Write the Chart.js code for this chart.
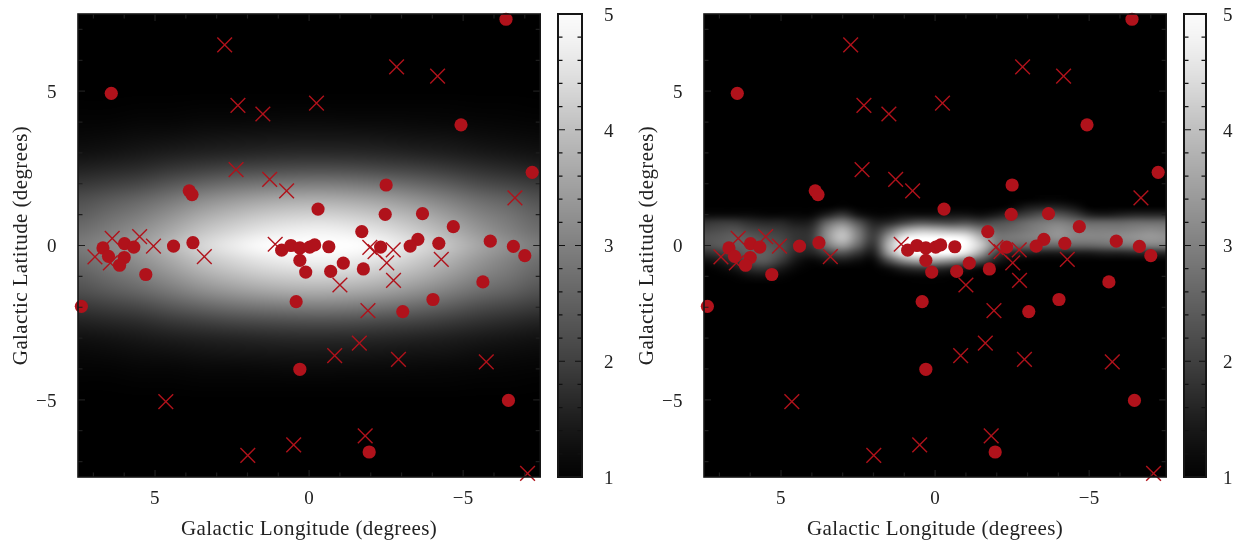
<!DOCTYPE html>
<html><head><meta charset="utf-8">
<script src="https://cdn.jsdelivr.net/npm/chart.js@4"></script>
<style>
html,body{margin:0;padding:0;background:#fff;width:1233px;height:542px;overflow:hidden}
canvas{position:absolute;top:0}
</style></head><body>
<canvas id="p1" style="left:0" width="552" height="542"></canvas>
<canvas id="c1" style="left:552px" width="75" height="542"></canvas>
<canvas id="p2" style="left:626px" width="552" height="542"></canvas>
<canvas id="c2" style="left:1178px" width="55" height="542"></canvas>
<script>
const circleL=[6.42,3.89,3.80,6.69,5.99,5.69,6.51,6.00,6.15,4.40,3.77,5.30,0.89,0.59,0.30,-0.02,-0.18,-0.29,0.30,0.11,0.42,0.30,7.39,-6.39,-4.93,-7.24,-2.50,-2.47,-3.68,-4.68,-1.71,-3.53,-3.28,-4.21,-2.32,-5.88,-6.63,-7.00,-0.64,-1.11,-1.76,-0.70,-5.64,-4.02,-3.04,-6.47,-1.95];
const circleB=[4.93,1.77,1.65,-0.08,0.06,-0.05,-0.35,-0.39,-0.64,-0.02,0.09,-0.94,-0.15,0.00,-0.08,-0.05,0.02,1.18,-0.48,-0.86,-1.82,-4.01,-1.97,7.33,3.91,2.37,1.96,1.01,1.03,0.61,0.45,0.20,-0.02,0.07,-0.05,0.14,-0.03,-0.33,-0.04,-0.57,-0.76,-0.84,-1.18,-1.75,-2.14,-5.02,-6.69];
const crossL=[2.74,2.31,1.50,-0.24,2.37,1.28,0.73,1.10,6.95,6.39,6.45,5.50,5.05,3.40,-2.84,-4.17,-6.68,-1.97,-2.14,-2.73,-2.52,-4.29,-1.00,-2.74,-1.91,-1.63,-0.83,-2.90,-5.75,-1.82,-7.09,4.65,1.99,0.50];
const crossB=[6.50,4.54,4.26,4.61,2.46,2.14,1.77,0.04,-0.37,0.23,-0.56,0.29,-0.02,-0.36,5.79,5.49,1.54,-0.06,-0.20,-0.14,-0.56,-0.45,-1.28,-1.13,-2.11,-3.16,-3.57,-3.69,-3.77,-6.17,-7.38,-5.06,-6.80,-6.46];
const labelTicks=[5,0,-5];
const minorTicks=[7,6,4,3,2,1,-1,-2,-3,-4,-6,-7];
const barLabels=[1,2,3,4,5];
const barMinor=[1.2,1.4,1.6,1.8,2.2,2.4,2.6,2.8,3.2,3.4,3.6,3.8,4.2,4.4,4.6,4.8];
const barLevels=[5,4,3,2,1];

const leftCols=[7.5,6.5,5.5,4.5,3.5,2.5,1.5,0.5,-0.5,-1.5,-2.5,-3.5,-4.5,-5.5,-6.5,-7.5];
const leftRows=[5,4.5,4,3.5,3,2.5,2,1.5,1,0.5,0,-0.5,-1,-1.5,-2,-2.5,-3,-3.5,-4,-4.5,-5];
const leftGrid=[
[1,1,1,1,1,1,1,1,1,1,1,1,1,1,1,1],
[1.02,1.02,1.03,1.03,1.04,1.04,1.05,1.05,1.05,1.05,1.05,1.04,1.04,1.03,1.03,1.02],
[1.06,1.07,1.09,1.10,1.12,1.13,1.14,1.15,1.15,1.14,1.14,1.12,1.11,1.09,1.08,1.06],
[1.13,1.16,1.20,1.24,1.28,1.31,1.33,1.34,1.35,1.34,1.32,1.29,1.26,1.21,1.18,1.14],
[1.25,1.30,1.37,1.45,1.52,1.57,1.61,1.64,1.65,1.63,1.59,1.54,1.47,1.40,1.33,1.27],
[1.50,1.58,1.68,1.83,1.96,2.06,2.13,2.18,2.19,2.16,2.09,2.00,1.88,1.73,1.62,1.52],
[1.85,1.98,2.11,2.35,2.56,2.72,2.84,2.92,2.94,2.88,2.77,2.62,2.42,2.19,2.05,1.90],
[2.20,2.40,2.60,2.86,3.16,3.38,3.55,3.66,3.69,3.61,3.46,3.24,2.97,2.70,2.50,2.25],
[2.45,2.70,2.95,3.28,3.64,3.90,4.12,4.25,4.28,4.18,4.00,3.74,3.41,3.05,2.80,2.50],
[2.70,2.95,3.25,3.62,4.04,4.34,4.59,4.74,4.78,4.67,4.46,4.15,3.77,3.36,3.00,2.70],
[2.90,3.15,3.45,3.90,4.36,4.70,4.97,5,5,5,4.82,4.49,4.07,3.60,3.25,2.90],
[2.70,2.95,3.25,3.62,4.04,4.34,4.59,4.74,4.78,4.67,4.46,4.15,3.77,3.36,3.00,2.70],
[2.45,2.70,2.95,3.28,3.64,3.90,4.12,4.25,4.28,4.18,4.00,3.74,3.41,3.05,2.80,2.50],
[2.20,2.40,2.60,2.86,3.16,3.38,3.55,3.66,3.69,3.61,3.46,3.24,2.97,2.70,2.50,2.25],
[1.85,1.98,2.11,2.35,2.56,2.72,2.84,2.92,2.94,2.88,2.77,2.62,2.42,2.19,2.05,1.90],
[1.50,1.58,1.68,1.83,1.96,2.06,2.13,2.18,2.19,2.16,2.09,2.00,1.88,1.73,1.62,1.52],
[1.25,1.30,1.37,1.45,1.52,1.57,1.61,1.64,1.65,1.63,1.59,1.54,1.47,1.40,1.33,1.27],
[1.13,1.16,1.20,1.24,1.28,1.31,1.33,1.34,1.35,1.34,1.32,1.29,1.26,1.21,1.18,1.14],
[1.06,1.07,1.09,1.10,1.12,1.13,1.14,1.15,1.15,1.14,1.14,1.12,1.11,1.09,1.08,1.06],
[1.02,1.02,1.03,1.03,1.04,1.04,1.05,1.05,1.05,1.05,1.05,1.04,1.04,1.03,1.03,1.02],
[1,1,1,1,1,1,1,1,1,1,1,1,1,1,1,1]];

const rightCols=[7.5,7,6.5,6,5.5,5,4.5,4,3.5,3,2.5,2,1.5,1,0.5,0,-0.5,-1,-1.5,-2,-2.5,-3,-3.5,-4,-4.5,-5,-5.5,-6,-6.5,-7,-7.5];
const rightRows=[1.5,1.25,1,0.75,0.5,0.25,0,-0.25,-0.5,-0.75,-1,-1.25];
const rightGrid=[
[1,1,1,1,1,1,1,1,1,1,1,1,1,1,1,1,1,1,1,1,1,1,1.05,1.05,1,1,1,1,1,1,1],
[1,1,1,1,1,1,1,1,1,1.1,1,1,1,1,1,1,1,1,1,1,1.1,1.4,1.5,1.5,1.3,1,1,1,1,1,1],
[1.15,1.15,1.15,1.15,1.1,1.1,1.1,1.1,1.5,1.9,1.3,1.1,1.1,1.2,1.2,1.2,1.3,1.3,1.2,1.4,1.7,2.0,2.3,2.3,2.0,1.5,1.4,1.5,1.6,1.6,1.6],
[1.8,1.9,1.9,1.7,1.6,1.6,1.4,1.5,2.6,3.1,2.3,1.5,1.6,2.0,2.3,2.2,2.1,2.2,2.0,2.2,2.4,2.7,2.9,3.0,2.8,2.6,2.6,2.6,2.7,2.7,2.7],
[2.1,2.2,2.3,2.1,2.0,1.9,1.7,1.8,3.2,3.9,2.9,1.8,2.6,3.6,4.0,3.9,3.7,3.6,3.0,2.6,2.7,2.9,3.1,3.3,3.1,3.0,3.0,3.0,3.1,3.2,3.1],
[2.3,2.4,2.5,2.4,2.2,2.1,1.8,1.9,3.3,4.1,3.0,1.9,3.5,4.8,5,5,5,4.8,3.8,2.9,2.9,3.0,3.1,3.3,3.1,3.1,3.1,3.2,3.3,3.4,3.3],
[2.2,2.4,2.5,2.5,2.4,2.2,1.8,1.8,2.9,3.5,2.6,1.7,3.9,5,5,5,5,5,4.2,2.8,2.6,2.6,2.6,2.6,2.6,2.6,2.7,2.8,2.9,3.0,3.0],
[1.7,1.9,2.2,2.5,2.5,2.2,1.6,1.5,2.0,2.3,1.8,1.4,3.5,4.8,5,5,5,4.6,3.5,2.0,1.5,1.5,1.4,1.4,1.4,1.4,1.5,1.5,1.6,1.6,1.6],
[1.2,1.4,1.8,2.3,2.4,1.9,1.3,1.1,1.3,1.4,1.2,1.1,2.2,3.2,3.6,3.5,3.2,2.8,2.2,1.4,1.1,1,1,1,1,1,1,1,1,1,1],
[1,1.1,1.3,1.7,1.8,1.4,1.1,1,1,1,1,1,1.2,1.6,1.8,1.7,1.5,1.3,1.1,1,1,1,1,1,1,1,1,1,1,1,1],
[1,1,1.05,1.2,1.25,1.1,1,1,1,1,1,1,1,1.05,1.1,1.1,1.05,1,1,1,1,1,1,1,1,1,1,1,1,1,1],
[1,1,1,1,1,1,1,1,1,1,1,1,1,1,1,1,1,1,1,1,1,1,1,1,1,1,1,1,1,1,1]];

const FONT='"Liberation Serif",serif', TXT='#222', MARK='#b0121b', EDGE='#161616', TICK='#1e1e1e';
const grey=v=>Math.round((Math.min(5,Math.max(1,v))-1)/4*255);

const heatPlugin={id:'heat',beforeDraw(ch){ch.ctx.letterSpacing='0.4px'},beforeDatasetsDraw(ch,a,o){
  if(!o.grid)return;
  const {ctx,chartArea:A,scales:{x,y}}=ch,cols=o.cols,rows=o.rows,g=o.grid;
  const off=document.createElement('canvas');off.width=cols.length;off.height=rows.length;
  const oc=off.getContext('2d'),im=oc.createImageData(cols.length,rows.length);
  rows.forEach((_,r)=>cols.forEach((_,c)=>{const k=(r*cols.length+c)*4,w=grey(g[r][c]);
    im.data[k]=im.data[k+1]=im.data[k+2]=w;im.data[k+3]=255;}));
  oc.putImageData(im,0,0);
  const dc=(cols[1]-cols[0])/2,dr=(rows[1]-rows[0])/2;
  const x0=x.getPixelForValue(cols[0]-dc),x1=x.getPixelForValue(cols[cols.length-1]+dc);
  const y0=y.getPixelForValue(rows[0]-dr),y1=y.getPixelForValue(rows[rows.length-1]+dr);
  ctx.save();ctx.beginPath();ctx.rect(A.left,A.top,A.right-A.left,A.bottom-A.top);ctx.clip();
  ctx.fillStyle='#000';ctx.fillRect(A.left,A.top,A.right-A.left,A.bottom-A.top);
  ctx.imageSmoothingEnabled=true;ctx.imageSmoothingQuality='high';
  ctx.drawImage(off,x0,y0,x1-x0,y1-y0);ctx.restore();
}};
const framePlugin={id:'frame',afterDatasetsDraw(ch,a,o){
  const {ctx,chartArea:A,scales:{x,y}}=ch;
  ctx.save();ctx.strokeStyle=o.tick||TICK;ctx.lineWidth=1.2;
  const hl=(v,len)=>{const p=y.getPixelForValue(v);ctx.beginPath();
    ctx.moveTo(A.left,p);ctx.lineTo(A.left+len,p);ctx.moveTo(A.right,p);ctx.lineTo(A.right-len,p);ctx.stroke();};
  const vl=(v,len)=>{const p=x.getPixelForValue(v);ctx.beginPath();
    ctx.moveTo(p,A.top);ctx.lineTo(p,A.top+len);ctx.moveTo(p,A.bottom);ctx.lineTo(p,A.bottom-len);ctx.stroke();};
  (o.yMajor||[]).forEach(v=>hl(v,7));(o.yMinor||[]).forEach(v=>hl(v,4.5));
  (o.xMajor||[]).forEach(v=>vl(v,7));(o.xMinor||[]).forEach(v=>vl(v,4.5));
  ctx.strokeStyle=EDGE;ctx.lineWidth=o.edge||1.6;ctx.strokeRect(A.left,A.top,A.right-A.left,A.bottom-A.top);
  ctx.restore();
}};
const noPad=s=>{s.paddingTop=s.paddingBottom=s.paddingLeft=s.paddingRight=0};

const fmt=v=>v<0?'\u2212'+(-v):String(v);
function panel(id,cols,rows,grid){
  const c=document.getElementById(id);
  return new Chart(c,{type:'scatter',plugins:[heatPlugin,framePlugin],
    data:{datasets:[
      {data:circleL.map((l,i)=>({x:l,y:circleB[i]})),pointStyle:'circle',pointRadius:6.6,pointBackgroundColor:MARK,pointBorderWidth:0,clip:false},
      {data:crossL.map((l,i)=>({x:l,y:crossB[i]})),pointStyle:'crossRot',pointRadius:10.4,pointBorderColor:MARK,pointBorderWidth:1.4,pointBackgroundColor:MARK,clip:false}]},
    options:{responsive:false,animation:false,devicePixelRatio:1,
      layout:{padding:{top:14,right:11,left:0,bottom:0}},
      plugins:{legend:{display:false},tooltip:{enabled:false},
        heat:{cols,rows,grid},
        frame:{xMajor:labelTicks,xMinor:minorTicks,yMajor:labelTicks,yMinor:minorTicks}},
      scales:{
        x:{type:'linear',min:-7.5,max:7.5,reverse:true,grid:{display:false},border:{display:false},
          afterFit:s=>{s.height=65;noPad(s)},afterBuildTicks:s=>{s.ticks=labelTicks.map(value=>({value}))},
          ticks:{callback:fmt,padding:3,color:TXT,maxRotation:0,font:{family:FONT,size:19}},
          title:{display:true,text:'Galactic Longitude (degrees)',color:TXT,font:{family:FONT,size:21},padding:{top:5,bottom:0}}},
        y:{type:'linear',min:-7.5,max:7.5,grid:{display:false},border:{display:false},
          afterFit:s=>{s.width=78;noPad(s)},afterBuildTicks:s=>{s.ticks=labelTicks.map(value=>({value}))},
          ticks:{callback:fmt,padding:13,labelOffset:2,color:TXT,font:{family:FONT,size:19}},
          title:{display:true,text:'Galactic Latitude (degrees)',color:TXT,font:{family:FONT,size:21},padding:{top:9,bottom:0}}}
      }}});
}
function colorbar(id,axisWidth,pad){
  return new Chart(document.getElementById(id),{type:'scatter',plugins:[heatPlugin,framePlugin],
    data:{datasets:[]},
    options:{responsive:false,animation:false,devicePixelRatio:1,
      layout:{padding:{top:14,left:6,right:0,bottom:65}},
      plugins:{legend:{display:false},tooltip:{enabled:false},
        heat:{cols:[0,1],rows:barLevels,grid:barLevels.map(v=>[v,v])},
        frame:{tick:'#111',edge:2,yMajor:barLabels,yMinor:barMinor}},
      scales:{
        x:{type:'linear',min:0,max:1,display:false},
        y:{type:'linear',position:'right',min:1,max:5,grid:{display:false},border:{display:false},
          afterFit:s=>{s.width=axisWidth;noPad(s)},afterBuildTicks:s=>{s.ticks=barLabels.map(value=>({value}))},
          ticks:{padding:pad,labelOffset:2,color:TXT,font:{family:FONT,size:19}}}
      }}});
}
panel('p1',leftCols,leftRows,leftGrid);colorbar('c1',45,14);
panel('p2',rightCols,rightRows,rightGrid);colorbar('c2',27,9);
</script></body></html>
